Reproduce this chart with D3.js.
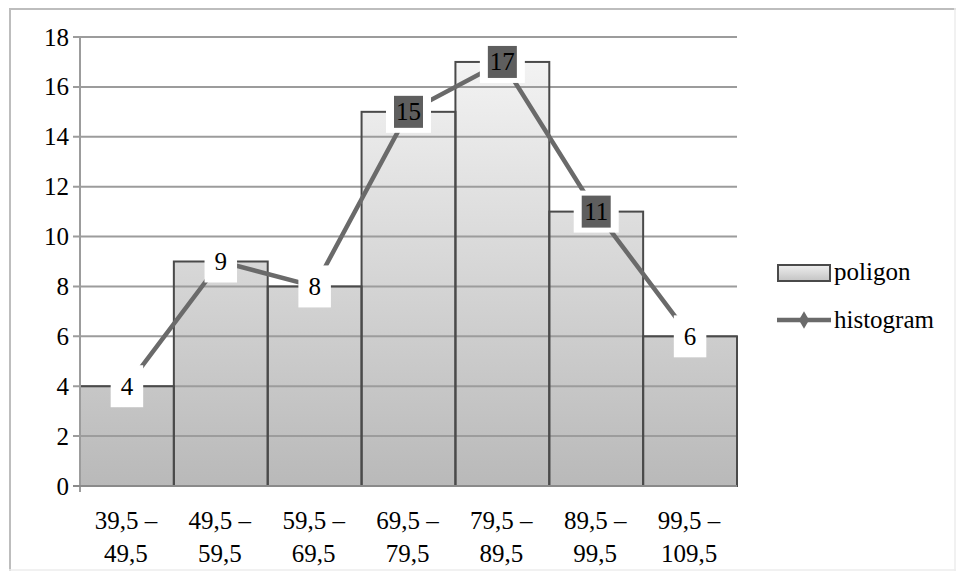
<!DOCTYPE html>
<html>
<head>
<meta charset="utf-8">
<script src="https://cdnjs.cloudflare.com/ajax/libs/d3/7.8.5/d3.min.js"></script>
<style>
  html, body { margin: 0; padding: 0; background: #ffffff; font-family: "Liberation Serif", "Times New Roman", serif; }
  svg { display: block; font-family: "Liberation Serif", "Times New Roman", serif; }
  svg text { font-family: "Liberation Serif", "Times New Roman", serif; font-size: 25px; }
</style>
</head>
<body>
<svg id="chart" width="957" height="578"></svg>
<script>
// ---- data ----
const categories = ["39,5 – 49,5", "49,5 – 59,5", "59,5 – 69,5", "69,5 – 79,5", "79,5 – 89,5", "89,5 – 99,5", "99,5 – 109,5"];
const labelLines = [["39,5 –", "49,5"], ["49,5 –", "59,5"], ["59,5 –", "69,5"], ["69,5 –", "79,5"], ["79,5 –", "89,5"], ["89,5 –", "99,5"], ["99,5 –", "109,5"]];
const poligonValues = [4, 9, 8, 15, 17, 11, 6];
const histogramValues = [4, 9, 8, 15, 17, 11, 6];
const yTicks = [0, 2, 4, 6, 8, 10, 12, 14, 16, 18];
const seriesNames = ["poligon", "histogram"];

// ---- layout ----
const plot = { left: 80, right: 737, top: 37, bottom: 486 };
const svg = d3.select("#chart");

const x = d3.scaleBand().domain(categories).range([plot.left, plot.right]).padding(0);
const y = d3.scaleLinear().domain([0, 18]).range([plot.bottom, plot.top]);

// gradient
const defs = svg.append("defs");
const grad = defs.append("linearGradient").attr("id", "barGrad")
  .attr("gradientUnits", "userSpaceOnUse")
  .attr("x1", 0).attr("y1", plot.top).attr("x2", 0).attr("y2", plot.bottom);
grad.append("stop").attr("offset", "0%").attr("stop-color", "#f6f6f6");
grad.append("stop").attr("offset", "100%").attr("stop-color", "#b9b9b9");
const lgrad = defs.append("linearGradient").attr("id", "legGrad")
  .attr("x1", 0).attr("y1", 0).attr("x2", 0).attr("y2", 1);
lgrad.append("stop").attr("offset", "0%").attr("stop-color", "#eeeeee");
lgrad.append("stop").attr("offset", "100%").attr("stop-color", "#c4c4c4");

// outer frame
svg.append("line").attr("x1", 9).attr("x2", 956).attr("y1", 9).attr("y2", 9).attr("stroke", "#bdbdbd").attr("stroke-width", 2);
svg.append("line").attr("x1", 10).attr("x2", 10).attr("y1", 8).attr("y2", 571).attr("stroke", "#bdbdbd").attr("stroke-width", 2);
svg.append("line").attr("x1", 955).attr("x2", 955).attr("y1", 8).attr("y2", 571).attr("stroke", "#ececec").attr("stroke-width", 1.5);
svg.append("line").attr("x1", 9).attr("x2", 956).attr("y1", 570).attr("y2", 570).attr("stroke", "#ececec").attr("stroke-width", 1.5);

// bar fills
svg.append("g").selectAll("rect").data(poligonValues).join("rect")
  .attr("x", (d, i) => x(categories[i]))
  .attr("y", d => y(d))
  .attr("width", x.bandwidth())
  .attr("height", d => y(0) - y(d))
  .attr("fill", "url(#barGrad)");

// gridlines
svg.append("g").selectAll("line").data(yTicks.filter(t => t > 0)).join("line")
  .attr("x1", plot.left - 7).attr("x2", plot.right)
  .attr("y1", d => y(d)).attr("y2", d => y(d))
  .attr("stroke", "#9c9c9c").attr("stroke-width", 2);

// bar outlines
svg.append("g").selectAll("rect").data(poligonValues).join("rect")
  .attr("x", (d, i) => x(categories[i]))
  .attr("y", d => y(d))
  .attr("width", x.bandwidth())
  .attr("height", d => y(0) - y(d))
  .attr("fill", "none")
  .attr("stroke", "#4a4a4a").attr("stroke-width", 2);

// axes
svg.append("line").attr("x1", plot.left).attr("x2", plot.left).attr("y1", plot.top).attr("y2", plot.bottom + 6)
  .attr("stroke", "#9c9c9c").attr("stroke-width", 2);
svg.append("line").attr("x1", plot.left - 7).attr("x2", plot.right).attr("y1", plot.bottom).attr("y2", plot.bottom)
  .attr("stroke", "#8a8a8a").attr("stroke-width", 2);

// y tick labels
svg.append("g").selectAll("text").data(yTicks).join("text")
  .attr("x", plot.left - 11).attr("y", d => y(d)).attr("dy", "0.34em")
  .attr("text-anchor", "end")
  .text(d => d);

// x labels
const xl = svg.append("g").selectAll("text").data(labelLines).join("text")
  .attr("text-anchor", "middle")
  .attr("transform", (d, i) => `translate(${x(categories[i]) + x.bandwidth() / 2 - 1},0)`);
xl.selectAll("tspan").data(d => d).join("tspan")
  .attr("x", 0).attr("y", (d, j) => 529 + j * 33).text(d => d);

// histogram line
const pts = histogramValues.map((v, i) => [x(categories[i]) + x.bandwidth() / 2, y(v)]);
svg.append("path").attr("d", d3.line()(pts))
  .attr("fill", "none").attr("stroke", "#6a6a6a").attr("stroke-width", 4.5);

// data labels (box width from digit count; digits are 0.5em wide)
const lab = svg.append("g").selectAll("g").data(histogramValues).join("g")
  .attr("transform", (d, i) => `translate(${pts[i][0]},${pts[i][1]})`);
lab.append("rect")
  .attr("x", d => -String(d).length * 6.25 - 10).attr("y", -21)
  .attr("width", d => String(d).length * 12.5 + 20).attr("height", 42).attr("fill", "#ffffff");
lab.filter(d => d > 10).append("rect")
  .attr("x", d => -String(d).length * 6.25 - 2).attr("y", -16)
  .attr("width", d => String(d).length * 12.5 + 4).attr("height", 32).attr("fill", "#5e5e5e");
lab.append("text").attr("text-anchor", "middle").attr("dy", "0.34em").text(d => d);

// legend
const leg = svg.append("g");
leg.append("rect").attr("x", 778).attr("y", 265).attr("width", 52).attr("height", 16)
  .attr("fill", "url(#legGrad)").attr("stroke", "#4a4a4a").attr("stroke-width", 2);
leg.append("text").attr("x", 834).attr("y", 280).text(seriesNames[0]);
leg.append("line").attr("x1", 777).attr("x2", 831).attr("y1", 320).attr("y2", 320)
  .attr("stroke", "#6a6a6a").attr("stroke-width", 4.5);
leg.append("path").attr("d", d3.symbol().type(d3.symbolDiamond).size(90)())
  .attr("transform", "translate(804,320)").attr("fill", "#6a6a6a");
leg.append("text").attr("x", 834).attr("y", 328).text(seriesNames[1]);
</script>
</body>
</html>
